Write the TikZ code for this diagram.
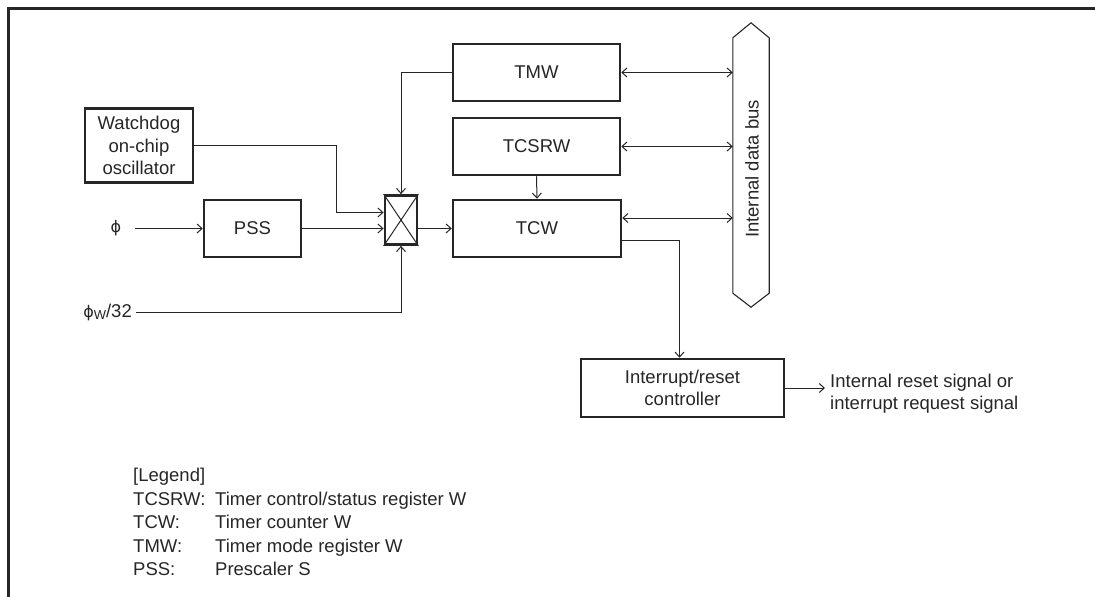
\documentclass[tikz,border=0pt]{standalone}
\usepackage{fontspec}
\setmainfont{Liberation Sans}
\newfontfamily\phifont{DejaVu Sans}
\usetikzlibrary{arrows.meta,calc}
\definecolor{ink}{gray}{0.15}
\tikzset{
  blk/.style={draw=ink, line width=2.5pt, rectangle, inner sep=0pt, align=center, text=ink},
  conn/.style={draw=ink, line width=1pt},
  arr/.style={conn, -{Straight Barb[length=5pt,width=9pt]}},
  barr/.style={conn, {Straight Barb[length=5pt,width=9pt]}-{Straight Barb[length=5pt,width=9pt]}},
  lbl/.style={text=ink, inner sep=0pt, align=left},
}
\begin{document}
\begin{tikzpicture}[x=1pt,y=-1pt, font=\fontsize{18.5}{22.5}\selectfont]
\useasboundingbox (0,0) rectangle (1095,597);
% frame
\draw[ink, line width=3pt] (8,597) -- (8,8) -- (1095,8);

% blocks
\node[blk, minimum width=108, minimum height=74] (wdo) at (139,145.5) {Watchdog\\on-chip\\oscillator};
\node[blk, minimum width=97, minimum height=57] (pss) at (252.5,228.5) {PSS};
\node[blk, line width=2.8pt, minimum width=32, minimum height=49] (mux) at (401,220) {};
\draw[ink, line width=1pt] (mux.north west) -- (mux.south east) (mux.north east) -- (mux.south west);
\node[blk, minimum width=167, minimum height=57] (tmw) at (536.5,72.5) {TMW};
\node[blk, minimum width=167, minimum height=57] (tcsrw) at (536.5,146.5) {TCSRW};
\node[blk, minimum width=168, minimum height=57] (tcw) at (537,228.5) {TCW};
\node[blk, minimum width=203, minimum height=58] (irc) at (682.5,388) {Interrupt/reset\\controller};

% bus
\node[minimum width=36, minimum height=255, inner sep=0pt] (bus) at (751,165.5) {};
\draw[ink, line width=1.1pt] (bus.north west) -- ($(bus.north)+(0,-15)$) -- (bus.north east)
  -- (bus.south east) -- ($(bus.south)+(0,14)$) -- (bus.south west) -- cycle;
\node[lbl, rotate=90] (bustxt) at (752,169) {Internal data bus};

% inputs
\node[lbl] (phi) at (116,228.5) {{\phifont\fontsize{16}{16}\selectfont ϕ}};
\node[lbl, anchor=east] (phiw) at (132,312) {{\phifont\fontsize{16}{16}\selectfont ϕ}\raisebox{-0.3ex}{\fontsize{13}{13}\selectfont W}/32};
\node[lbl, anchor=west] (sig) at (830,393.5) {Internal reset signal or\\interrupt request signal};

\coordinate (wbend) at (336,212.5);

% connectors
\draw[arr] ([xshift=14pt]phi.east) -- (pss.west);
\draw[arr] (pss.east) -- (pss.east -| mux.west);
\draw[arr] (wdo.east) -| (wbend) -- (wbend -| mux.west);
\draw[arr] ([xshift=4pt]phiw.east) -| (mux.south);
\draw[arr] (tmw.west) -| (mux.north);
\draw[arr] (tcw.west -| mux.east) -- (tcw.west);
\draw[arr] (tcsrw.south) -- (tcw.north);
\draw[barr] (tmw.east) -- (tmw.east -| bus.west);
\draw[barr] (tcsrw.east) -- (tcsrw.east -| bus.west);
\draw[barr] ([yshift=10.5pt]tcw.east) -- ([yshift=10.5pt]tcw.east -| bus.west);
\draw[arr] ([yshift=-11.5pt]tcw.east) -| ([xshift=-3pt]irc.north);
\draw[arr] (irc.east) -- ([xshift=-5pt]irc.east -| sig.west);

% legend
\node[lbl, anchor=mid west] (lg0) at (133,479) {[Legend]};
\node[lbl, anchor=mid west] (lg1a) at (133,502.5) {TCSRW:};
\node[lbl, anchor=mid west] (lg1b) at (215,502.5) {Timer control/status register W};
\node[lbl, anchor=mid west] (lg2a) at (133,526) {TCW:};
\node[lbl, anchor=mid west] (lg2b) at (215,526) {Timer counter W};
\node[lbl, anchor=mid west] (lg3a) at (133,549.5) {TMW:};
\node[lbl, anchor=mid west] (lg3b) at (215,549.5) {Timer mode register W};
\node[lbl, anchor=mid west] (lg4a) at (133,573) {PSS:};
\node[lbl, anchor=mid west] (lg4b) at (215,573) {Prescaler S};
\end{tikzpicture}
\end{document}
